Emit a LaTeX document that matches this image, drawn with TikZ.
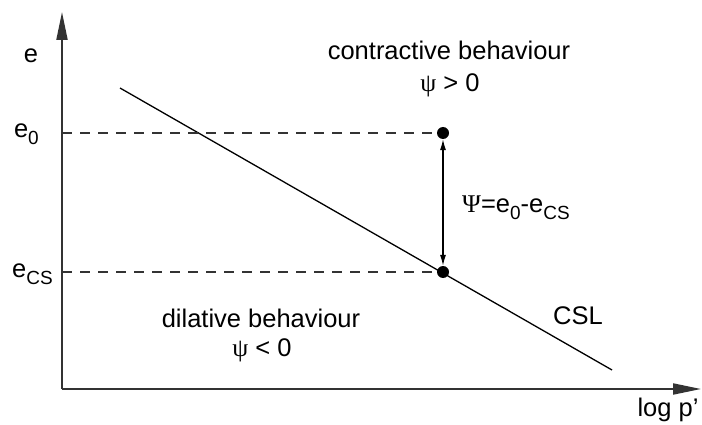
\documentclass[tikz,border=0pt]{standalone}
\usepackage{fontspec}
\setmainfont{Liberation Sans}
\newfontfamily\grk{Liberation Serif}
\usetikzlibrary{arrows.meta}
\newcommand{\lowsub}[1]{\raisebox{-7pt}{\fontsize{19}{20}\selectfont #1}}
\begin{document}
\begin{tikzpicture}[x=1pt,y=-1pt,
  axis/.style={draw=black!80,line width=2pt,-{Triangle[length=28pt,width=11pt]}},
  guide/.style={dashed,dash pattern=on 10pt off 8pt,line width=1.2pt,draw=black!80},
  dot/.style={circle,fill=black,inner sep=0pt,minimum size=12pt},
  lbl/.style={font=\fontsize{25.5}{28}\selectfont,inner sep=0pt}]
\useasboundingbox (0,0) rectangle (702,425);
\coordinate (O) at (62,389);
\coordinate (Ytop) at (62,12);
\coordinate (Xend) at (701,389);
\draw[axis] (O) -- (Ytop);
\draw[axis] (O) -- (Xend);
\coordinate (c1) at (120,88);
\coordinate (c2) at (612,370);
\draw[line width=1.3pt] (c1) -- (c2);
\coordinate (ye0) at (62,133);
\coordinate (yecs) at (62,272);
\node[dot] (P0) at (443,133) {};
\node[dot] (Pcs) at (443,272) {};
\draw[guide] (ye0) -- (P0.west);
\draw[guide] (yecs) -- (Pcs.west);
\draw[line width=1.2pt,{Latex[length=11pt,width=6pt]}-{Latex[length=11pt,width=6pt]}] (P0.south) -- (Pcs.north);
\node[lbl] (le) at (31,56) {e};
\node[lbl,anchor=base east] (le0) at (39,138) {e\lowsub{0}};
\node[lbl,anchor=base east] (lecs) at (53,277) {e\lowsub{CS}};
\node[lbl,anchor=base west] (lpsi) at (462,212) {{\grk Ψ}=e\lowsub{0}-e\lowsub{CS}};
\node[lbl] (lcon) at (449,50) {contractive behaviour};
\node[lbl] (lcon2) at (450,85) {{\grk ψ} > 0};
\node[lbl] (ldil) at (261,318) {dilative behaviour};
\node[lbl] (ldil2) at (262,350) {{\grk ψ} < 0};
\node[lbl] (lcsl) at (578,316) {CSL};
\node[lbl] (llog) at (668,410) {log p’};
\end{tikzpicture}
\end{document}
